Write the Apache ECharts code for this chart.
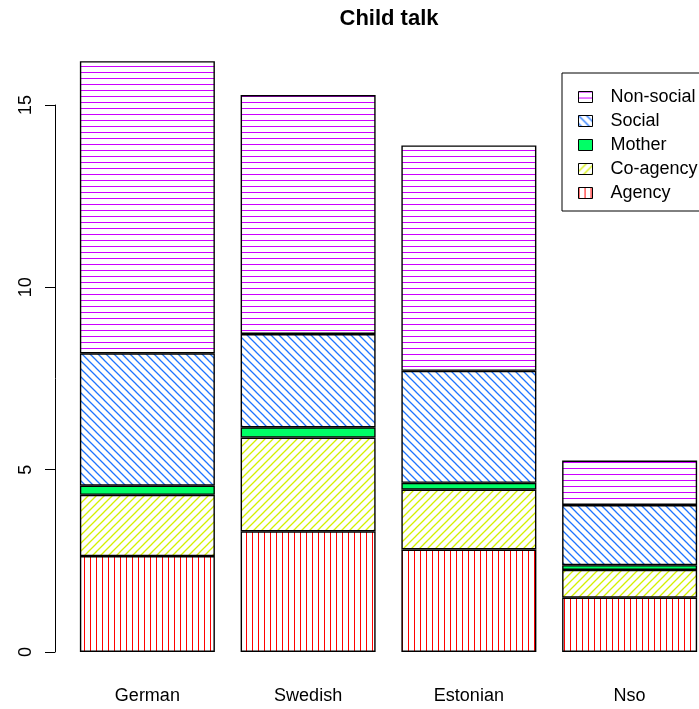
<!DOCTYPE html>
<html><head><meta charset="utf-8">
<script src="https://cdn.jsdelivr.net/npm/echarts@6/dist/echarts.min.js"></script>
<style>html,body{margin:0;padding:0;background:#fff}#c{width:699px;height:709px}</style>
</head><body><div id="c"></div>
<script>
const categories = ['German', 'Swedish', 'Estonian', 'Nso'];
const agency    = [2.63, 3.31, 2.81, 1.49];
const coAgency  = [1.68, 2.57, 1.64, 0.76];
const mother    = [0.25, 0.28, 0.19, 0.13];
const social    = [3.63, 2.56, 3.07, 1.65];
const nonSocial = [8.01, 6.55, 6.18, 1.22];
const legendOrder = ['Non-social', 'Social', 'Mother', 'Co-agency', 'Agency'];

const FONT = '"Liberation Sans", Arial, sans-serif';

function pattern(kind, color) {
  const cv = document.createElement('canvas');
  const ctx = cv.getContext('2d');
  if (kind === 'h') {
    cv.width = 4; cv.height = 6;
    ctx.fillStyle = color; ctx.fillRect(0, 0, 4, 1);
  } else if (kind === 'v') {
    cv.width = 6; cv.height = 4;
    ctx.fillStyle = color; ctx.fillRect(0, 0, 1, 4);
  } else {
    const s = 8;
    cv.width = s; cv.height = s;
    ctx.strokeStyle = color; ctx.lineWidth = 1.3;
    ctx.beginPath();
    if (kind === 'up') {
      ctx.moveTo(-1, s + 1); ctx.lineTo(s + 1, -1);
      ctx.moveTo(-1, 1); ctx.lineTo(1, -1);
      ctx.moveTo(s - 1, s + 1); ctx.lineTo(s + 1, s - 1);
    } else {
      ctx.moveTo(-1, -1); ctx.lineTo(s + 1, s + 1);
      ctx.moveTo(s - 1, -1); ctx.lineTo(s + 1, 1);
      ctx.moveTo(-1, s - 1); ctx.lineTo(1, s + 1);
    }
    ctx.stroke();
  }
  return { image: cv, repeat: 'repeat' };
}

function seg(name, data, color) {
  return {
    name: name, type: 'bar', stack: 'total', data: data,
    barWidth: 135, xAxisIndex: 0, yAxisIndex: 0,
    itemStyle: { color: color, borderColor: '#000', borderWidth: 1.4 },
    emphasis: { disabled: true }, animation: false
  };
}

const chart = echarts.init(document.getElementById('c'), null, { renderer: 'canvas' });
chart.setOption({
  backgroundColor: '#fff',
  animation: false,
  title: {
    text: 'Child talk', left: 384, top: 3, textAlign: 'center',
    textStyle: { fontFamily: FONT, fontSize: 22, fontWeight: 'bold', color: '#000' }
  },
  legend: {
    data: legendOrder, orient: 'vertical', left: 562, top: 73, icon: 'rect',
    backgroundColor: '#fff', borderColor: '#000', borderWidth: 1, borderRadius: 0,
    padding: [15, 30, 9, 16], itemGap: 6, itemWidth: 14, itemHeight: 11,
    selectedMode: false,
    itemStyle: { borderColor: '#000', borderWidth: 1 },
    textStyle: { fontFamily: FONT, fontSize: 18, color: '#000', lineHeight: 18, padding: [0, 0, 0, 13] }
  },
  grid: [
    { left: 67, width: 643, top: 32, bottom: 57, outerBoundsMode: 'none', containLabel: false },
    { left: 55, width: 40, top: 105, bottom: 57, outerBoundsMode: 'none', containLabel: false }
  ],
  xAxis: [
    { type: 'category', gridIndex: 0, data: categories,
      axisLine: { show: false }, axisTick: { show: false },
      axisLabel: { margin: 35, fontFamily: FONT, fontSize: 18, color: '#000' } },
    { type: 'value', gridIndex: 1, show: false, min: 0, max: 1 }
  ],
  yAxis: [
    { type: 'value', gridIndex: 0, min: 0, max: 17, show: false },
    { type: 'value', gridIndex: 1, min: 0, max: 15, interval: 5,
      axisLine: { show: true, lineStyle: { color: '#000', width: 1 } },
      axisTick: { show: true, length: 10, lineStyle: { color: '#000', width: 1 } },
      splitLine: { show: false },
      axisLabel: { rotate: 90, margin: 20, fontFamily: FONT, fontSize: 18, color: '#000' } }
  ],
  series: [
    seg('Agency', agency, pattern('v', '#FF0000')),
    seg('Co-agency', coAgency, pattern('up', '#D4F000')),
    seg('Mother', mother, '#00FF66'),
    seg('Social', social, pattern('down', '#1E74FF')),
    seg('Non-social', nonSocial, pattern('h', '#CC00FF')),
    { type: 'line', xAxisIndex: 1, yAxisIndex: 1, data: [], silent: true }
  ]
});
</script></body></html>
